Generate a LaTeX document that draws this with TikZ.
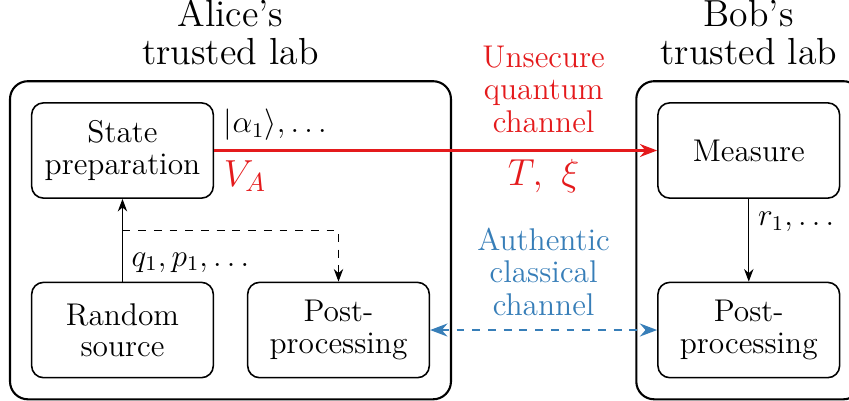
\documentclass[tikz,border=0pt]{standalone}
\usetikzlibrary{arrows.meta, positioning, fit, calc}
\definecolor{qred}{HTML}{E41A1C}
\definecolor{cblue}{HTML}{377EB8}

\begin{document}
\begin{tikzpicture}[>=Stealth, node distance = 1.11cm and 0.44cm,
    block/.style = {draw, semithick, rounded corners=0.16cm, minimum width=2.44cm,
      minimum height=1.28cm, align=center, font=\fontsize{12}{12}\selectfont},
    lab/.style = {draw, thick, rounded corners=0.24cm, inner sep=0.28cm},
    title/.style = {align=center, inner sep=0pt, font=\fontsize{14.4}{14.4}\selectfont},
    chan/.style = {align=center, font=\fontsize{12}{12.4}\selectfont}]
  \useasboundingbox (-1.645,-3.364) rectangle (9.757,2.021);

  % boxes in the two labs
  \node[block] (sp) {State\\preparation};
  \node[block] (rs) [below=of sp] {Random\\source};
  \node[block] (app) [right=of rs] {Post-\\processing};
  \node[block] (meas) [right=5.95cm of sp] {Measure};
  \node[block] (bpp) [below=of meas] {Post-\\processing};

  \node[lab, fit=(sp) (rs) (app)] (alice) {};
  \node[lab, fit=(meas) (bpp)] (bob) {};
  \node[title] (alicet) [above=0.2cm of alice] {Alice's\\trusted lab};
  \node[title] (bobt) [above=0.2cm of bob] {Bob's\\trusted lab};

  % channels
  \coordinate (gap) at ($(alice.east)!0.5!(bob.west)$);
  \path[->, thick, qred]
    (sp) edge node[pos=0, above right, text=black, font=\fontsize{12}{12}\selectfont]
              {$|\alpha_1\rangle, \dots$}
              node[pos=0, below right, font=\fontsize{14.4}{14.4}\selectfont] {$V_A$} (meas);
  \node[chan, text=qred, above=0.12cm] (qlab) at (gap |- sp) {Unsecure\\quantum\\channel};
  \node[text=qred, below, font=\fontsize{14.4}{14.4}\selectfont] (noise) at (gap |- sp) {$T,\ \xi$};

  \path[<->, thick, dashed, cblue] (app) edge (bpp);
  \node[chan, text=cblue, above=0.07cm] (clab) at (gap |- app) {Authentic\\classical\\channel};

  % data inside the labs
  \coordinate (branch) at ([yshift=-0.42cm]sp.south);
  \path[->, font=\fontsize{12}{12}\selectfont]
    (rs) edge node[pos=0.23, right] {$q_1, p_1, \dots$} (sp)
    (meas) edge node[pos=0.28, right] {$r_1, \dots$} (bpp);
  \draw[->, dashed] (branch) -| (app);
\end{tikzpicture}
\end{document}
